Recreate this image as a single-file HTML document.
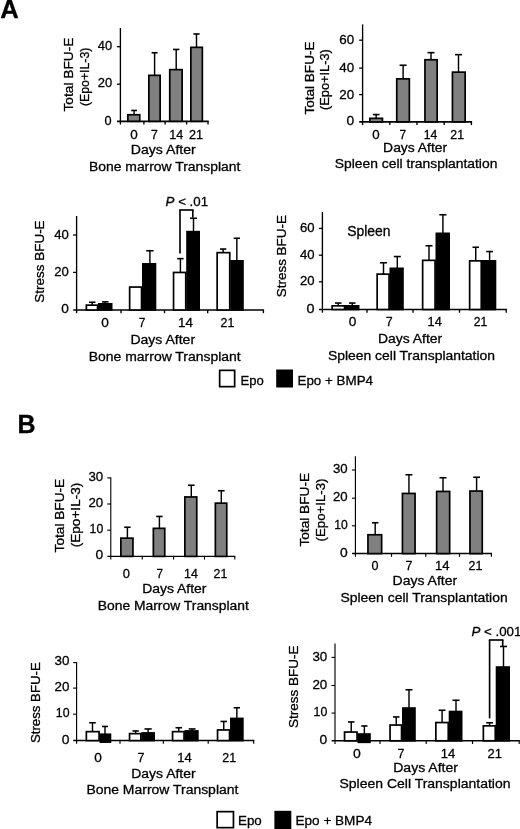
<!DOCTYPE html>
<html><head><meta charset="utf-8"><title>Figure</title>
<style>
html,body{margin:0;padding:0;background:#fff;}
body{width:520px;height:829px;overflow:hidden;}
svg{display:block;font-family:"Liberation Sans",Arial,Helvetica,sans-serif;}
svg text{fill:#000;stroke:#000;stroke-width:0.3px;}
</style></head><body>
<svg width="520" height="829" viewBox="0 0 520 829">
<g stroke="#000" fill="#000">
<line x1="120.40" y1="28.00" x2="120.40" y2="124.50" stroke-width="1.35"/>
<line x1="117.00" y1="121.30" x2="208.68" y2="121.30" stroke-width="1.7"/>
<line x1="143.90" y1="121.30" x2="143.90" y2="124.50" stroke-width="1.35"/>
<line x1="165.10" y1="121.30" x2="165.10" y2="124.50" stroke-width="1.35"/>
<line x1="186.60" y1="121.30" x2="186.60" y2="124.50" stroke-width="1.35"/>
<line x1="208.00" y1="121.30" x2="208.00" y2="124.50" stroke-width="1.35"/>
<line x1="116.90" y1="46.70" x2="120.40" y2="46.70" stroke-width="1.3"/>
<line x1="116.90" y1="84.20" x2="120.40" y2="84.20" stroke-width="1.3"/>
<line x1="134.10" y1="110.45" x2="134.10" y2="114.90" stroke-width="1.45"/>
<line x1="131.20" y1="110.45" x2="137.00" y2="110.45" stroke-width="1.6"/>
<rect x="127.85" y="114.75" width="11.90" height="6.55" fill="#808080" stroke-width="1.7"/>
<line x1="154.60" y1="52.75" x2="154.60" y2="75.50" stroke-width="1.45"/>
<line x1="151.60" y1="52.75" x2="157.60" y2="52.75" stroke-width="1.6"/>
<rect x="148.85" y="75.35" width="11.30" height="45.95" fill="#808080" stroke-width="1.7"/>
<line x1="176.20" y1="49.45" x2="176.20" y2="69.80" stroke-width="1.45"/>
<line x1="173.00" y1="49.45" x2="179.40" y2="49.45" stroke-width="1.6"/>
<rect x="169.75" y="69.65" width="12.40" height="51.65" fill="#808080" stroke-width="1.7"/>
<line x1="196.50" y1="33.95" x2="196.50" y2="47.50" stroke-width="1.45"/>
<line x1="193.40" y1="33.95" x2="199.60" y2="33.95" stroke-width="1.6"/>
<rect x="190.85" y="47.35" width="11.50" height="73.95" fill="#808080" stroke-width="1.7"/>
<text x="97.80" y="49.70" font-size="13.7" textLength="14.40" lengthAdjust="spacingAndGlyphs">40</text>
<text x="97.80" y="87.20" font-size="13.7" textLength="14.40" lengthAdjust="spacingAndGlyphs">20</text>
<text x="104.50" y="124.80" font-size="13.7" textLength="7.10" lengthAdjust="spacingAndGlyphs">0</text>
<text transform="translate(73.00,111.50) rotate(-90)" font-size="13.7" textLength="74.00" lengthAdjust="spacingAndGlyphs">Total BFU-E</text>
<text transform="translate(88.70,106.10) rotate(-90)" font-size="13.7" textLength="58.51" lengthAdjust="spacingAndGlyphs">(Epo+IL-3)</text>
<text x="130.20" y="139.00" font-size="13.7" textLength="7.50" lengthAdjust="spacingAndGlyphs">0</text>
<text x="151.00" y="139.00" font-size="13.7" textLength="6.80" lengthAdjust="spacingAndGlyphs">7</text>
<text x="169.30" y="139.00" font-size="13.7" textLength="14.00" lengthAdjust="spacingAndGlyphs">14</text>
<text x="188.90" y="139.00" font-size="13.7" textLength="14.10" lengthAdjust="spacingAndGlyphs">21</text>
<text x="130.80" y="154.30" font-size="13.7" textLength="65.00" lengthAdjust="spacingAndGlyphs">Days After</text>
<text x="89.00" y="170.60" font-size="13.7" textLength="151.40" lengthAdjust="spacingAndGlyphs">Bone marrow Transplant</text>
<line x1="362.60" y1="24.40" x2="362.60" y2="125.10" stroke-width="1.35"/>
<line x1="359.20" y1="121.90" x2="472.07" y2="121.90" stroke-width="1.7"/>
<line x1="389.80" y1="121.90" x2="389.80" y2="125.10" stroke-width="1.35"/>
<line x1="417.00" y1="121.90" x2="417.00" y2="125.10" stroke-width="1.35"/>
<line x1="444.20" y1="121.90" x2="444.20" y2="125.10" stroke-width="1.35"/>
<line x1="471.40" y1="121.90" x2="471.40" y2="125.10" stroke-width="1.35"/>
<line x1="359.10" y1="40.20" x2="362.60" y2="40.20" stroke-width="1.3"/>
<line x1="359.10" y1="68.10" x2="362.60" y2="68.10" stroke-width="1.3"/>
<line x1="359.10" y1="94.60" x2="362.60" y2="94.60" stroke-width="1.3"/>
<line x1="376.15" y1="114.55" x2="376.15" y2="118.50" stroke-width="1.45"/>
<line x1="372.80" y1="114.55" x2="379.50" y2="114.55" stroke-width="1.6"/>
<rect x="369.85" y="118.35" width="12.60" height="3.55" fill="#808080" stroke-width="1.7"/>
<line x1="403.10" y1="65.25" x2="403.10" y2="79.00" stroke-width="1.45"/>
<line x1="399.60" y1="65.25" x2="406.60" y2="65.25" stroke-width="1.6"/>
<rect x="396.75" y="78.85" width="12.60" height="43.05" fill="#808080" stroke-width="1.7"/>
<line x1="431.00" y1="52.65" x2="431.00" y2="59.90" stroke-width="1.45"/>
<line x1="427.50" y1="52.65" x2="434.50" y2="52.65" stroke-width="1.6"/>
<rect x="424.95" y="59.75" width="12.20" height="62.15" fill="#808080" stroke-width="1.7"/>
<line x1="458.50" y1="54.65" x2="458.50" y2="72.30" stroke-width="1.45"/>
<line x1="455.00" y1="54.65" x2="462.00" y2="54.65" stroke-width="1.6"/>
<rect x="452.45" y="72.15" width="12.70" height="49.75" fill="#808080" stroke-width="1.7"/>
<text x="339.30" y="44.00" font-size="13.7" textLength="14.90" lengthAdjust="spacingAndGlyphs">60</text>
<text x="339.30" y="72.00" font-size="13.7" textLength="14.90" lengthAdjust="spacingAndGlyphs">40</text>
<text x="339.30" y="98.60" font-size="13.7" textLength="14.90" lengthAdjust="spacingAndGlyphs">20</text>
<text x="346.50" y="125.00" font-size="13.7" textLength="7.70" lengthAdjust="spacingAndGlyphs">0</text>
<text transform="translate(313.90,114.60) rotate(-90)" font-size="13.7" textLength="73.10" lengthAdjust="spacingAndGlyphs">Total BFU-E</text>
<text transform="translate(329.40,110.00) rotate(-90)" font-size="13.7" textLength="60.81" lengthAdjust="spacingAndGlyphs">(Epo+IL-3)</text>
<text x="372.30" y="138.70" font-size="13.7" textLength="7.40" lengthAdjust="spacingAndGlyphs">0</text>
<text x="399.60" y="138.70" font-size="13.7" textLength="6.60" lengthAdjust="spacingAndGlyphs">7</text>
<text x="423.80" y="138.70" font-size="13.7" textLength="13.60" lengthAdjust="spacingAndGlyphs">14</text>
<text x="450.30" y="138.70" font-size="13.7" textLength="13.70" lengthAdjust="spacingAndGlyphs">21</text>
<text x="383.10" y="151.70" font-size="13.7" textLength="64.10" lengthAdjust="spacingAndGlyphs">Days After</text>
<text x="334.70" y="167.90" font-size="13.7" textLength="162.70" lengthAdjust="spacingAndGlyphs">Spleen cell transplantation</text>
<line x1="76.60" y1="216.00" x2="76.60" y2="313.20" stroke-width="1.35"/>
<line x1="73.20" y1="310.00" x2="264.07" y2="310.00" stroke-width="1.7"/>
<line x1="121.00" y1="310.00" x2="121.00" y2="313.20" stroke-width="1.35"/>
<line x1="164.50" y1="310.00" x2="164.50" y2="313.20" stroke-width="1.35"/>
<line x1="207.70" y1="310.00" x2="207.70" y2="313.20" stroke-width="1.35"/>
<line x1="263.40" y1="310.00" x2="263.40" y2="313.20" stroke-width="1.35"/>
<line x1="73.10" y1="235.00" x2="76.60" y2="235.00" stroke-width="1.3"/>
<line x1="73.10" y1="272.40" x2="76.60" y2="272.40" stroke-width="1.3"/>
<line x1="92.25" y1="302.25" x2="92.25" y2="305.30" stroke-width="1.45"/>
<line x1="89.00" y1="302.25" x2="95.50" y2="302.25" stroke-width="1.6"/>
<rect x="86.35" y="305.15" width="11.20" height="4.85" fill="#fff" stroke-width="1.7"/>
<line x1="105.25" y1="301.85" x2="105.25" y2="304.00" stroke-width="1.45"/>
<line x1="102.00" y1="301.85" x2="108.50" y2="301.85" stroke-width="1.6"/>
<rect x="98.85" y="303.85" width="12.80" height="6.15" fill="#000" stroke-width="1.7"/>
<rect x="129.65" y="287.05" width="11.90" height="22.95" fill="#fff" stroke-width="1.7"/>
<line x1="149.90" y1="250.75" x2="149.90" y2="264.00" stroke-width="1.45"/>
<line x1="146.20" y1="250.75" x2="153.60" y2="250.75" stroke-width="1.6"/>
<rect x="142.85" y="263.85" width="12.60" height="46.15" fill="#000" stroke-width="1.7"/>
<line x1="180.40" y1="258.65" x2="180.40" y2="272.60" stroke-width="1.45"/>
<line x1="177.20" y1="258.65" x2="183.60" y2="258.65" stroke-width="1.6"/>
<rect x="173.55" y="272.45" width="12.20" height="37.55" fill="#fff" stroke-width="1.7"/>
<line x1="193.50" y1="218.25" x2="193.50" y2="231.80" stroke-width="1.45"/>
<line x1="190.00" y1="218.25" x2="197.00" y2="218.25" stroke-width="1.6"/>
<rect x="187.05" y="231.65" width="12.10" height="78.35" fill="#000" stroke-width="1.7"/>
<line x1="223.15" y1="249.05" x2="223.15" y2="252.80" stroke-width="1.45"/>
<line x1="220.00" y1="249.05" x2="226.30" y2="249.05" stroke-width="1.6"/>
<rect x="217.15" y="252.65" width="12.60" height="57.35" fill="#fff" stroke-width="1.7"/>
<line x1="236.85" y1="238.25" x2="236.85" y2="261.00" stroke-width="1.45"/>
<line x1="233.70" y1="238.25" x2="240.00" y2="238.25" stroke-width="1.6"/>
<rect x="231.05" y="260.85" width="11.90" height="49.15" fill="#000" stroke-width="1.7"/>
<text x="54.20" y="239.00" font-size="13.7" textLength="14.60" lengthAdjust="spacingAndGlyphs">40</text>
<text x="54.20" y="276.40" font-size="13.7" textLength="14.60" lengthAdjust="spacingAndGlyphs">20</text>
<text x="61.20" y="313.40" font-size="13.7" textLength="7.60" lengthAdjust="spacingAndGlyphs">0</text>
<text transform="translate(44.20,302.70) rotate(-90)" font-size="13.7" textLength="82.30" lengthAdjust="spacingAndGlyphs">Stress BFU-E</text>
<text x="101.20" y="327.10" font-size="13.7" textLength="7.60" lengthAdjust="spacingAndGlyphs">0</text>
<text x="138.80" y="327.10" font-size="13.7" textLength="6.60" lengthAdjust="spacingAndGlyphs">7</text>
<text x="178.00" y="327.10" font-size="13.7" textLength="14.80" lengthAdjust="spacingAndGlyphs">14</text>
<text x="220.60" y="327.10" font-size="13.7" textLength="13.70" lengthAdjust="spacingAndGlyphs">21</text>
<text x="130.40" y="344.20" font-size="13.7" textLength="64.70" lengthAdjust="spacingAndGlyphs">Days After</text>
<text x="88.80" y="360.70" font-size="13.7" textLength="151.90" lengthAdjust="spacingAndGlyphs">Bone marrow Transplant</text>
<line x1="180.00" y1="253.60" x2="180.00" y2="210.00" stroke-width="1.65"/>
<line x1="179.20" y1="210.00" x2="193.60" y2="210.00" stroke-width="1.65"/>
<line x1="192.80" y1="210.00" x2="192.80" y2="217.50" stroke-width="1.65"/>
<text x="165.6" y="206" font-size="13.3"><tspan font-style="italic">P</tspan> &lt; .01</text>
<line x1="322.40" y1="212.00" x2="322.40" y2="312.70" stroke-width="1.35"/>
<line x1="319.00" y1="309.50" x2="506.88" y2="309.50" stroke-width="1.7"/>
<line x1="367.00" y1="309.50" x2="367.00" y2="312.70" stroke-width="1.35"/>
<line x1="413.00" y1="309.50" x2="413.00" y2="312.70" stroke-width="1.35"/>
<line x1="459.50" y1="309.50" x2="459.50" y2="312.70" stroke-width="1.35"/>
<line x1="506.20" y1="309.50" x2="506.20" y2="312.70" stroke-width="1.35"/>
<line x1="318.90" y1="228.40" x2="322.40" y2="228.40" stroke-width="1.3"/>
<line x1="318.90" y1="255.20" x2="322.40" y2="255.20" stroke-width="1.3"/>
<line x1="318.90" y1="281.80" x2="322.40" y2="281.80" stroke-width="1.3"/>
<line x1="338.25" y1="303.05" x2="338.25" y2="306.00" stroke-width="1.45"/>
<line x1="335.00" y1="303.05" x2="341.50" y2="303.05" stroke-width="1.6"/>
<rect x="332.15" y="305.85" width="12.40" height="3.65" fill="#fff" stroke-width="1.7"/>
<line x1="352.25" y1="303.05" x2="352.25" y2="306.00" stroke-width="1.45"/>
<line x1="349.00" y1="303.05" x2="355.50" y2="303.05" stroke-width="1.6"/>
<rect x="345.85" y="305.85" width="12.80" height="3.65" fill="#000" stroke-width="1.7"/>
<line x1="383.50" y1="262.75" x2="383.50" y2="274.30" stroke-width="1.45"/>
<line x1="380.00" y1="262.75" x2="387.00" y2="262.75" stroke-width="1.6"/>
<rect x="377.15" y="274.15" width="11.90" height="35.35" fill="#fff" stroke-width="1.7"/>
<line x1="397.30" y1="256.55" x2="397.30" y2="268.50" stroke-width="1.45"/>
<line x1="393.80" y1="256.55" x2="400.80" y2="256.55" stroke-width="1.6"/>
<rect x="390.35" y="268.35" width="12.60" height="41.15" fill="#000" stroke-width="1.7"/>
<line x1="429.00" y1="245.75" x2="429.00" y2="260.50" stroke-width="1.45"/>
<line x1="425.50" y1="245.75" x2="432.50" y2="245.75" stroke-width="1.6"/>
<rect x="422.65" y="260.35" width="12.40" height="49.15" fill="#fff" stroke-width="1.7"/>
<line x1="442.90" y1="214.75" x2="442.90" y2="233.50" stroke-width="1.45"/>
<line x1="439.30" y1="214.75" x2="446.50" y2="214.75" stroke-width="1.6"/>
<rect x="436.35" y="233.35" width="12.80" height="76.15" fill="#000" stroke-width="1.7"/>
<line x1="475.75" y1="247.25" x2="475.75" y2="261.00" stroke-width="1.45"/>
<line x1="472.50" y1="247.25" x2="479.00" y2="247.25" stroke-width="1.6"/>
<rect x="469.65" y="260.85" width="11.60" height="48.65" fill="#fff" stroke-width="1.7"/>
<line x1="489.60" y1="251.55" x2="489.60" y2="261.00" stroke-width="1.45"/>
<line x1="486.20" y1="251.55" x2="493.00" y2="251.55" stroke-width="1.6"/>
<rect x="482.55" y="260.85" width="12.90" height="48.65" fill="#000" stroke-width="1.7"/>
<text x="300.00" y="231.80" font-size="13.7" textLength="14.60" lengthAdjust="spacingAndGlyphs">60</text>
<text x="300.00" y="258.60" font-size="13.7" textLength="14.60" lengthAdjust="spacingAndGlyphs">40</text>
<text x="300.00" y="285.00" font-size="13.7" textLength="14.60" lengthAdjust="spacingAndGlyphs">20</text>
<text x="306.60" y="312.60" font-size="13.7" textLength="8.00" lengthAdjust="spacingAndGlyphs">0</text>
<text transform="translate(286.40,297.30) rotate(-90)" font-size="13.7" textLength="82.30" lengthAdjust="spacingAndGlyphs">Stress BFU-E</text>
<text x="348.70" y="325.90" font-size="13.7" textLength="7.60" lengthAdjust="spacingAndGlyphs">0</text>
<text x="385.80" y="325.90" font-size="13.7" textLength="6.90" lengthAdjust="spacingAndGlyphs">7</text>
<text x="427.60" y="325.90" font-size="13.7" textLength="14.20" lengthAdjust="spacingAndGlyphs">14</text>
<text x="473.80" y="325.90" font-size="13.7" textLength="13.60" lengthAdjust="spacingAndGlyphs">21</text>
<text x="378.00" y="343.10" font-size="13.7" textLength="64.10" lengthAdjust="spacingAndGlyphs">Days After</text>
<text x="327.90" y="359.90" font-size="13.7" textLength="167.10" lengthAdjust="spacingAndGlyphs">Spleen cell Transplantation</text>
<text x="347.20" y="235.60" font-size="13.8" textLength="43.20" lengthAdjust="spacingAndGlyphs">Spleen</text>
<rect x="219.65" y="370.35" width="15.00" height="16.30" fill="#fff" stroke-width="1.7"/>
<rect x="276.20" y="369.50" width="16.80" height="18.00" fill="#000" stroke="none"/>
<text x="240.50" y="384.60" font-size="13.7" textLength="23.30" lengthAdjust="spacingAndGlyphs">Epo</text>
<text x="297.50" y="384.60" font-size="13.7" textLength="75.50" lengthAdjust="spacingAndGlyphs">Epo + BMP4</text>
<line x1="110.80" y1="477.35" x2="110.80" y2="559.60" stroke-width="1.1"/>
<line x1="107.40" y1="556.40" x2="235.35" y2="556.40" stroke-width="1.4"/>
<line x1="142.20" y1="556.40" x2="142.20" y2="559.60" stroke-width="1.1"/>
<line x1="173.60" y1="556.40" x2="173.60" y2="559.60" stroke-width="1.1"/>
<line x1="204.50" y1="556.40" x2="204.50" y2="559.60" stroke-width="1.1"/>
<line x1="234.80" y1="556.40" x2="234.80" y2="559.60" stroke-width="1.1"/>
<line x1="107.30" y1="477.90" x2="110.80" y2="477.90" stroke-width="1.1"/>
<line x1="107.30" y1="504.00" x2="110.80" y2="504.00" stroke-width="1.1"/>
<line x1="107.30" y1="530.20" x2="110.80" y2="530.20" stroke-width="1.1"/>
<line x1="127.40" y1="527.25" x2="127.40" y2="538.30" stroke-width="1.45"/>
<line x1="124.20" y1="527.25" x2="130.60" y2="527.25" stroke-width="1.6"/>
<rect x="120.85" y="538.15" width="12.10" height="18.25" fill="#808080" stroke-width="1.7"/>
<line x1="159.40" y1="516.45" x2="159.40" y2="528.50" stroke-width="1.45"/>
<line x1="156.20" y1="516.45" x2="162.60" y2="516.45" stroke-width="1.6"/>
<rect x="153.35" y="528.35" width="11.40" height="28.05" fill="#808080" stroke-width="1.7"/>
<line x1="191.30" y1="485.25" x2="191.30" y2="497.10" stroke-width="1.45"/>
<line x1="188.00" y1="485.25" x2="194.60" y2="485.25" stroke-width="1.6"/>
<rect x="184.85" y="496.95" width="11.90" height="59.45" fill="#808080" stroke-width="1.7"/>
<line x1="221.30" y1="490.75" x2="221.30" y2="503.30" stroke-width="1.45"/>
<line x1="218.00" y1="490.75" x2="224.60" y2="490.75" stroke-width="1.6"/>
<rect x="215.35" y="503.15" width="11.40" height="53.25" fill="#808080" stroke-width="1.7"/>
<text x="88.40" y="481.00" font-size="13.7" textLength="14.80" lengthAdjust="spacingAndGlyphs">30</text>
<text x="88.40" y="507.20" font-size="13.7" textLength="14.80" lengthAdjust="spacingAndGlyphs">20</text>
<text x="89.60" y="533.40" font-size="13.7" textLength="13.60" lengthAdjust="spacingAndGlyphs">10</text>
<text x="95.50" y="559.20" font-size="13.7" textLength="7.70" lengthAdjust="spacingAndGlyphs">0</text>
<text transform="translate(64.40,552.40) rotate(-90)" font-size="13.7" textLength="73.60" lengthAdjust="spacingAndGlyphs">Total BFU-E</text>
<text transform="translate(80.20,547.30) rotate(-90)" font-size="13.7" textLength="64.61" lengthAdjust="spacingAndGlyphs">(Epo+IL-3)</text>
<text x="122.70" y="577.70" font-size="13.7" textLength="7.20" lengthAdjust="spacingAndGlyphs">0</text>
<text x="156.40" y="577.70" font-size="13.7" textLength="6.50" lengthAdjust="spacingAndGlyphs">7</text>
<text x="184.10" y="577.70" font-size="13.7" textLength="13.80" lengthAdjust="spacingAndGlyphs">14</text>
<text x="213.60" y="577.70" font-size="13.7" textLength="13.70" lengthAdjust="spacingAndGlyphs">21</text>
<text x="142.20" y="593.20" font-size="13.7" textLength="64.20" lengthAdjust="spacingAndGlyphs">Days After</text>
<text x="97.70" y="609.60" font-size="13.7" textLength="151.20" lengthAdjust="spacingAndGlyphs">Bone Marrow Transplant</text>
<line x1="355.40" y1="456.20" x2="355.40" y2="556.80" stroke-width="1.15"/>
<line x1="352.00" y1="553.60" x2="491.97" y2="553.60" stroke-width="1.5"/>
<line x1="391.50" y1="553.60" x2="391.50" y2="556.80" stroke-width="1.15"/>
<line x1="425.80" y1="553.60" x2="425.80" y2="556.80" stroke-width="1.15"/>
<line x1="459.50" y1="553.60" x2="459.50" y2="556.80" stroke-width="1.15"/>
<line x1="491.40" y1="553.60" x2="491.40" y2="556.80" stroke-width="1.15"/>
<line x1="351.90" y1="470.00" x2="355.40" y2="470.00" stroke-width="1.1"/>
<line x1="351.90" y1="498.20" x2="355.40" y2="498.20" stroke-width="1.1"/>
<line x1="351.90" y1="525.80" x2="355.40" y2="525.80" stroke-width="1.1"/>
<line x1="375.20" y1="522.75" x2="375.20" y2="534.90" stroke-width="1.45"/>
<line x1="372.00" y1="522.75" x2="378.40" y2="522.75" stroke-width="1.6"/>
<rect x="367.95" y="534.75" width="13.70" height="18.85" fill="#808080" stroke-width="1.7"/>
<line x1="408.95" y1="474.75" x2="408.95" y2="493.60" stroke-width="1.45"/>
<line x1="405.50" y1="474.75" x2="412.40" y2="474.75" stroke-width="1.6"/>
<rect x="402.45" y="493.45" width="12.60" height="60.15" fill="#808080" stroke-width="1.7"/>
<line x1="443.00" y1="477.75" x2="443.00" y2="491.60" stroke-width="1.45"/>
<line x1="439.50" y1="477.75" x2="446.50" y2="477.75" stroke-width="1.6"/>
<rect x="436.65" y="491.45" width="13.00" height="62.15" fill="#808080" stroke-width="1.7"/>
<line x1="476.60" y1="477.25" x2="476.60" y2="491.20" stroke-width="1.45"/>
<line x1="473.20" y1="477.25" x2="480.00" y2="477.25" stroke-width="1.6"/>
<rect x="469.95" y="491.05" width="12.30" height="62.55" fill="#808080" stroke-width="1.7"/>
<text x="333.00" y="473.00" font-size="13.7" textLength="14.70" lengthAdjust="spacingAndGlyphs">30</text>
<text x="333.00" y="501.20" font-size="13.7" textLength="14.70" lengthAdjust="spacingAndGlyphs">20</text>
<text x="334.20" y="528.80" font-size="13.7" textLength="13.50" lengthAdjust="spacingAndGlyphs">10</text>
<text x="340.00" y="556.80" font-size="13.7" textLength="7.70" lengthAdjust="spacingAndGlyphs">0</text>
<text transform="translate(309.20,546.60) rotate(-90)" font-size="13.7" textLength="73.80" lengthAdjust="spacingAndGlyphs">Total BFU-E</text>
<text transform="translate(324.60,541.50) rotate(-90)" font-size="13.7" textLength="63.01" lengthAdjust="spacingAndGlyphs">(Epo+IL-3)</text>
<text x="371.50" y="570.30" font-size="13.7" textLength="7.00" lengthAdjust="spacingAndGlyphs">0</text>
<text x="405.50" y="570.30" font-size="13.7" textLength="6.90" lengthAdjust="spacingAndGlyphs">7</text>
<text x="434.90" y="570.30" font-size="13.7" textLength="14.50" lengthAdjust="spacingAndGlyphs">14</text>
<text x="468.50" y="570.30" font-size="13.7" textLength="13.80" lengthAdjust="spacingAndGlyphs">21</text>
<text x="392.50" y="584.80" font-size="13.7" textLength="64.70" lengthAdjust="spacingAndGlyphs">Days After</text>
<text x="340.50" y="602.40" font-size="13.7" textLength="167.20" lengthAdjust="spacingAndGlyphs">Spleen cell Transplantation</text>
<line x1="76.60" y1="662.05" x2="76.60" y2="743.80" stroke-width="1.15"/>
<line x1="73.20" y1="740.60" x2="254.27" y2="740.60" stroke-width="1.5"/>
<line x1="120.00" y1="740.60" x2="120.00" y2="743.80" stroke-width="1.15"/>
<line x1="163.30" y1="740.60" x2="163.30" y2="743.80" stroke-width="1.15"/>
<line x1="208.20" y1="740.60" x2="208.20" y2="743.80" stroke-width="1.15"/>
<line x1="253.70" y1="740.60" x2="253.70" y2="743.80" stroke-width="1.15"/>
<line x1="73.10" y1="662.60" x2="76.60" y2="662.60" stroke-width="1.1"/>
<line x1="73.10" y1="688.10" x2="76.60" y2="688.10" stroke-width="1.1"/>
<line x1="73.10" y1="714.20" x2="76.60" y2="714.20" stroke-width="1.1"/>
<line x1="92.50" y1="722.75" x2="92.50" y2="731.80" stroke-width="1.45"/>
<line x1="89.20" y1="722.75" x2="95.80" y2="722.75" stroke-width="1.6"/>
<rect x="86.35" y="731.65" width="12.70" height="8.95" fill="#fff" stroke-width="1.7"/>
<line x1="105.00" y1="726.45" x2="105.00" y2="734.40" stroke-width="1.45"/>
<line x1="102.00" y1="726.45" x2="108.00" y2="726.45" stroke-width="1.6"/>
<rect x="100.35" y="734.25" width="10.10" height="7.85" fill="#000" stroke-width="1.7"/>
<line x1="135.65" y1="730.95" x2="135.65" y2="733.80" stroke-width="1.45"/>
<line x1="132.50" y1="730.95" x2="138.80" y2="730.95" stroke-width="1.6"/>
<rect x="129.55" y="733.65" width="11.30" height="6.95" fill="#fff" stroke-width="1.7"/>
<line x1="148.10" y1="728.95" x2="148.10" y2="733.10" stroke-width="1.45"/>
<line x1="144.50" y1="728.95" x2="151.70" y2="728.95" stroke-width="1.6"/>
<rect x="142.15" y="732.95" width="12.00" height="7.65" fill="#000" stroke-width="1.7"/>
<line x1="178.75" y1="727.75" x2="178.75" y2="731.80" stroke-width="1.45"/>
<line x1="175.50" y1="727.75" x2="182.00" y2="727.75" stroke-width="1.6"/>
<rect x="172.55" y="731.65" width="11.50" height="8.95" fill="#fff" stroke-width="1.7"/>
<line x1="192.10" y1="728.95" x2="192.10" y2="731.10" stroke-width="1.45"/>
<line x1="188.70" y1="728.95" x2="195.50" y2="728.95" stroke-width="1.6"/>
<rect x="185.35" y="730.95" width="12.50" height="9.65" fill="#000" stroke-width="1.7"/>
<line x1="223.75" y1="721.45" x2="223.75" y2="730.10" stroke-width="1.45"/>
<line x1="220.50" y1="721.45" x2="227.00" y2="721.45" stroke-width="1.6"/>
<rect x="217.55" y="729.95" width="12.00" height="10.65" fill="#fff" stroke-width="1.7"/>
<line x1="236.85" y1="707.75" x2="236.85" y2="718.60" stroke-width="1.45"/>
<line x1="233.70" y1="707.75" x2="240.00" y2="707.75" stroke-width="1.6"/>
<rect x="230.85" y="718.45" width="12.00" height="22.15" fill="#000" stroke-width="1.7"/>
<text x="54.60" y="664.80" font-size="13.7" textLength="14.90" lengthAdjust="spacingAndGlyphs">30</text>
<text x="54.60" y="691.00" font-size="13.7" textLength="14.90" lengthAdjust="spacingAndGlyphs">20</text>
<text x="55.80" y="717.20" font-size="13.7" textLength="13.70" lengthAdjust="spacingAndGlyphs">10</text>
<text x="61.80" y="743.60" font-size="13.7" textLength="7.70" lengthAdjust="spacingAndGlyphs">0</text>
<text transform="translate(40.00,743.00) rotate(-90)" font-size="13.7" textLength="80.70" lengthAdjust="spacingAndGlyphs">Stress BFU-E</text>
<text x="94.20" y="761.70" font-size="13.7" textLength="7.60" lengthAdjust="spacingAndGlyphs">0</text>
<text x="137.50" y="761.70" font-size="13.7" textLength="6.90" lengthAdjust="spacingAndGlyphs">7</text>
<text x="177.30" y="761.70" font-size="13.7" textLength="14.50" lengthAdjust="spacingAndGlyphs">14</text>
<text x="222.30" y="761.70" font-size="13.7" textLength="13.80" lengthAdjust="spacingAndGlyphs">21</text>
<text x="131.30" y="777.90" font-size="13.7" textLength="64.30" lengthAdjust="spacingAndGlyphs">Days After</text>
<text x="86.40" y="794.40" font-size="13.7" textLength="152.00" lengthAdjust="spacingAndGlyphs">Bone Marrow Transplant</text>
<line x1="335.00" y1="643.60" x2="335.00" y2="744.00" stroke-width="1.15"/>
<line x1="331.60" y1="740.80" x2="519.78" y2="740.80" stroke-width="1.5"/>
<line x1="380.00" y1="740.80" x2="380.00" y2="744.00" stroke-width="1.15"/>
<line x1="426.20" y1="740.80" x2="426.20" y2="744.00" stroke-width="1.15"/>
<line x1="472.50" y1="740.80" x2="472.50" y2="744.00" stroke-width="1.15"/>
<line x1="519.20" y1="740.80" x2="519.20" y2="744.00" stroke-width="1.15"/>
<line x1="331.50" y1="657.40" x2="335.00" y2="657.40" stroke-width="1.1"/>
<line x1="331.50" y1="685.50" x2="335.00" y2="685.50" stroke-width="1.1"/>
<line x1="331.50" y1="713.10" x2="335.00" y2="713.10" stroke-width="1.1"/>
<line x1="351.25" y1="721.95" x2="351.25" y2="732.20" stroke-width="1.45"/>
<line x1="348.00" y1="721.95" x2="354.50" y2="721.95" stroke-width="1.6"/>
<rect x="344.55" y="732.05" width="12.50" height="8.75" fill="#fff" stroke-width="1.7"/>
<line x1="364.35" y1="725.95" x2="364.35" y2="734.20" stroke-width="1.45"/>
<line x1="361.20" y1="725.95" x2="367.50" y2="725.95" stroke-width="1.6"/>
<rect x="358.35" y="734.05" width="11.60" height="8.25" fill="#000" stroke-width="1.7"/>
<line x1="396.25" y1="716.95" x2="396.25" y2="725.20" stroke-width="1.45"/>
<line x1="393.00" y1="716.95" x2="399.50" y2="716.95" stroke-width="1.6"/>
<rect x="390.05" y="725.05" width="11.50" height="15.75" fill="#fff" stroke-width="1.7"/>
<line x1="409.00" y1="689.75" x2="409.00" y2="708.20" stroke-width="1.45"/>
<line x1="405.50" y1="689.75" x2="412.50" y2="689.75" stroke-width="1.6"/>
<rect x="402.85" y="708.05" width="12.10" height="32.75" fill="#000" stroke-width="1.7"/>
<line x1="442.10" y1="710.25" x2="442.10" y2="722.70" stroke-width="1.45"/>
<line x1="438.70" y1="710.25" x2="445.50" y2="710.25" stroke-width="1.6"/>
<rect x="435.85" y="722.55" width="12.40" height="18.25" fill="#fff" stroke-width="1.7"/>
<line x1="456.00" y1="700.25" x2="456.00" y2="711.70" stroke-width="1.45"/>
<line x1="452.50" y1="700.25" x2="459.50" y2="700.25" stroke-width="1.6"/>
<rect x="449.55" y="711.55" width="12.10" height="29.25" fill="#000" stroke-width="1.7"/>
<line x1="489.60" y1="722.75" x2="489.60" y2="726.00" stroke-width="1.45"/>
<line x1="486.20" y1="722.75" x2="493.00" y2="722.75" stroke-width="1.6"/>
<rect x="483.35" y="725.85" width="11.90" height="14.95" fill="#fff" stroke-width="1.7"/>
<line x1="503.50" y1="646.45" x2="503.50" y2="667.20" stroke-width="1.45"/>
<line x1="500.00" y1="646.45" x2="507.00" y2="646.45" stroke-width="1.6"/>
<rect x="496.55" y="667.05" width="12.60" height="73.75" fill="#000" stroke-width="1.7"/>
<text x="312.40" y="660.60" font-size="13.7" textLength="14.90" lengthAdjust="spacingAndGlyphs">30</text>
<text x="312.40" y="688.70" font-size="13.7" textLength="14.90" lengthAdjust="spacingAndGlyphs">20</text>
<text x="313.60" y="716.30" font-size="13.7" textLength="13.70" lengthAdjust="spacingAndGlyphs">10</text>
<text x="319.60" y="744.20" font-size="13.7" textLength="7.70" lengthAdjust="spacingAndGlyphs">0</text>
<text transform="translate(297.60,728.00) rotate(-90)" font-size="13.7" textLength="82.50" lengthAdjust="spacingAndGlyphs">Stress BFU-E</text>
<text x="352.90" y="758.20" font-size="13.7" textLength="7.80" lengthAdjust="spacingAndGlyphs">0</text>
<text x="397.50" y="758.20" font-size="13.7" textLength="6.90" lengthAdjust="spacingAndGlyphs">7</text>
<text x="440.80" y="758.20" font-size="13.7" textLength="14.50" lengthAdjust="spacingAndGlyphs">14</text>
<text x="487.50" y="758.20" font-size="13.7" textLength="14.50" lengthAdjust="spacingAndGlyphs">21</text>
<text x="393.20" y="771.70" font-size="13.7" textLength="64.80" lengthAdjust="spacingAndGlyphs">Days After</text>
<text x="339.50" y="788.30" font-size="13.7" textLength="171.00" lengthAdjust="spacingAndGlyphs">Spleen Cell Transplantation</text>
<line x1="489.60" y1="718.40" x2="489.60" y2="640.00" stroke-width="1.65"/>
<line x1="488.80" y1="640.00" x2="503.50" y2="640.00" stroke-width="1.65"/>
<line x1="502.70" y1="640.00" x2="502.70" y2="646.00" stroke-width="1.65"/>
<text x="471.5" y="636" font-size="13.3"><tspan font-style="italic">P</tspan> &lt; .001</text>
<rect x="217.15" y="811.65" width="16.30" height="16.00" fill="#fff" stroke-width="1.7"/>
<rect x="274.40" y="810.80" width="16.90" height="18.70" fill="#000" stroke="none"/>
<text x="238.00" y="825.20" font-size="13.7" textLength="23.80" lengthAdjust="spacingAndGlyphs">Epo</text>
<text x="295.50" y="825.20" font-size="13.7" textLength="76.50" lengthAdjust="spacingAndGlyphs">Epo + BMP4</text>
<text x="0.3" y="17.8" font-size="25.6" font-weight="bold">A</text>
<text x="17.6" y="432.5" font-size="25" font-weight="bold">B</text>
</g>
</svg>
</body></html>
